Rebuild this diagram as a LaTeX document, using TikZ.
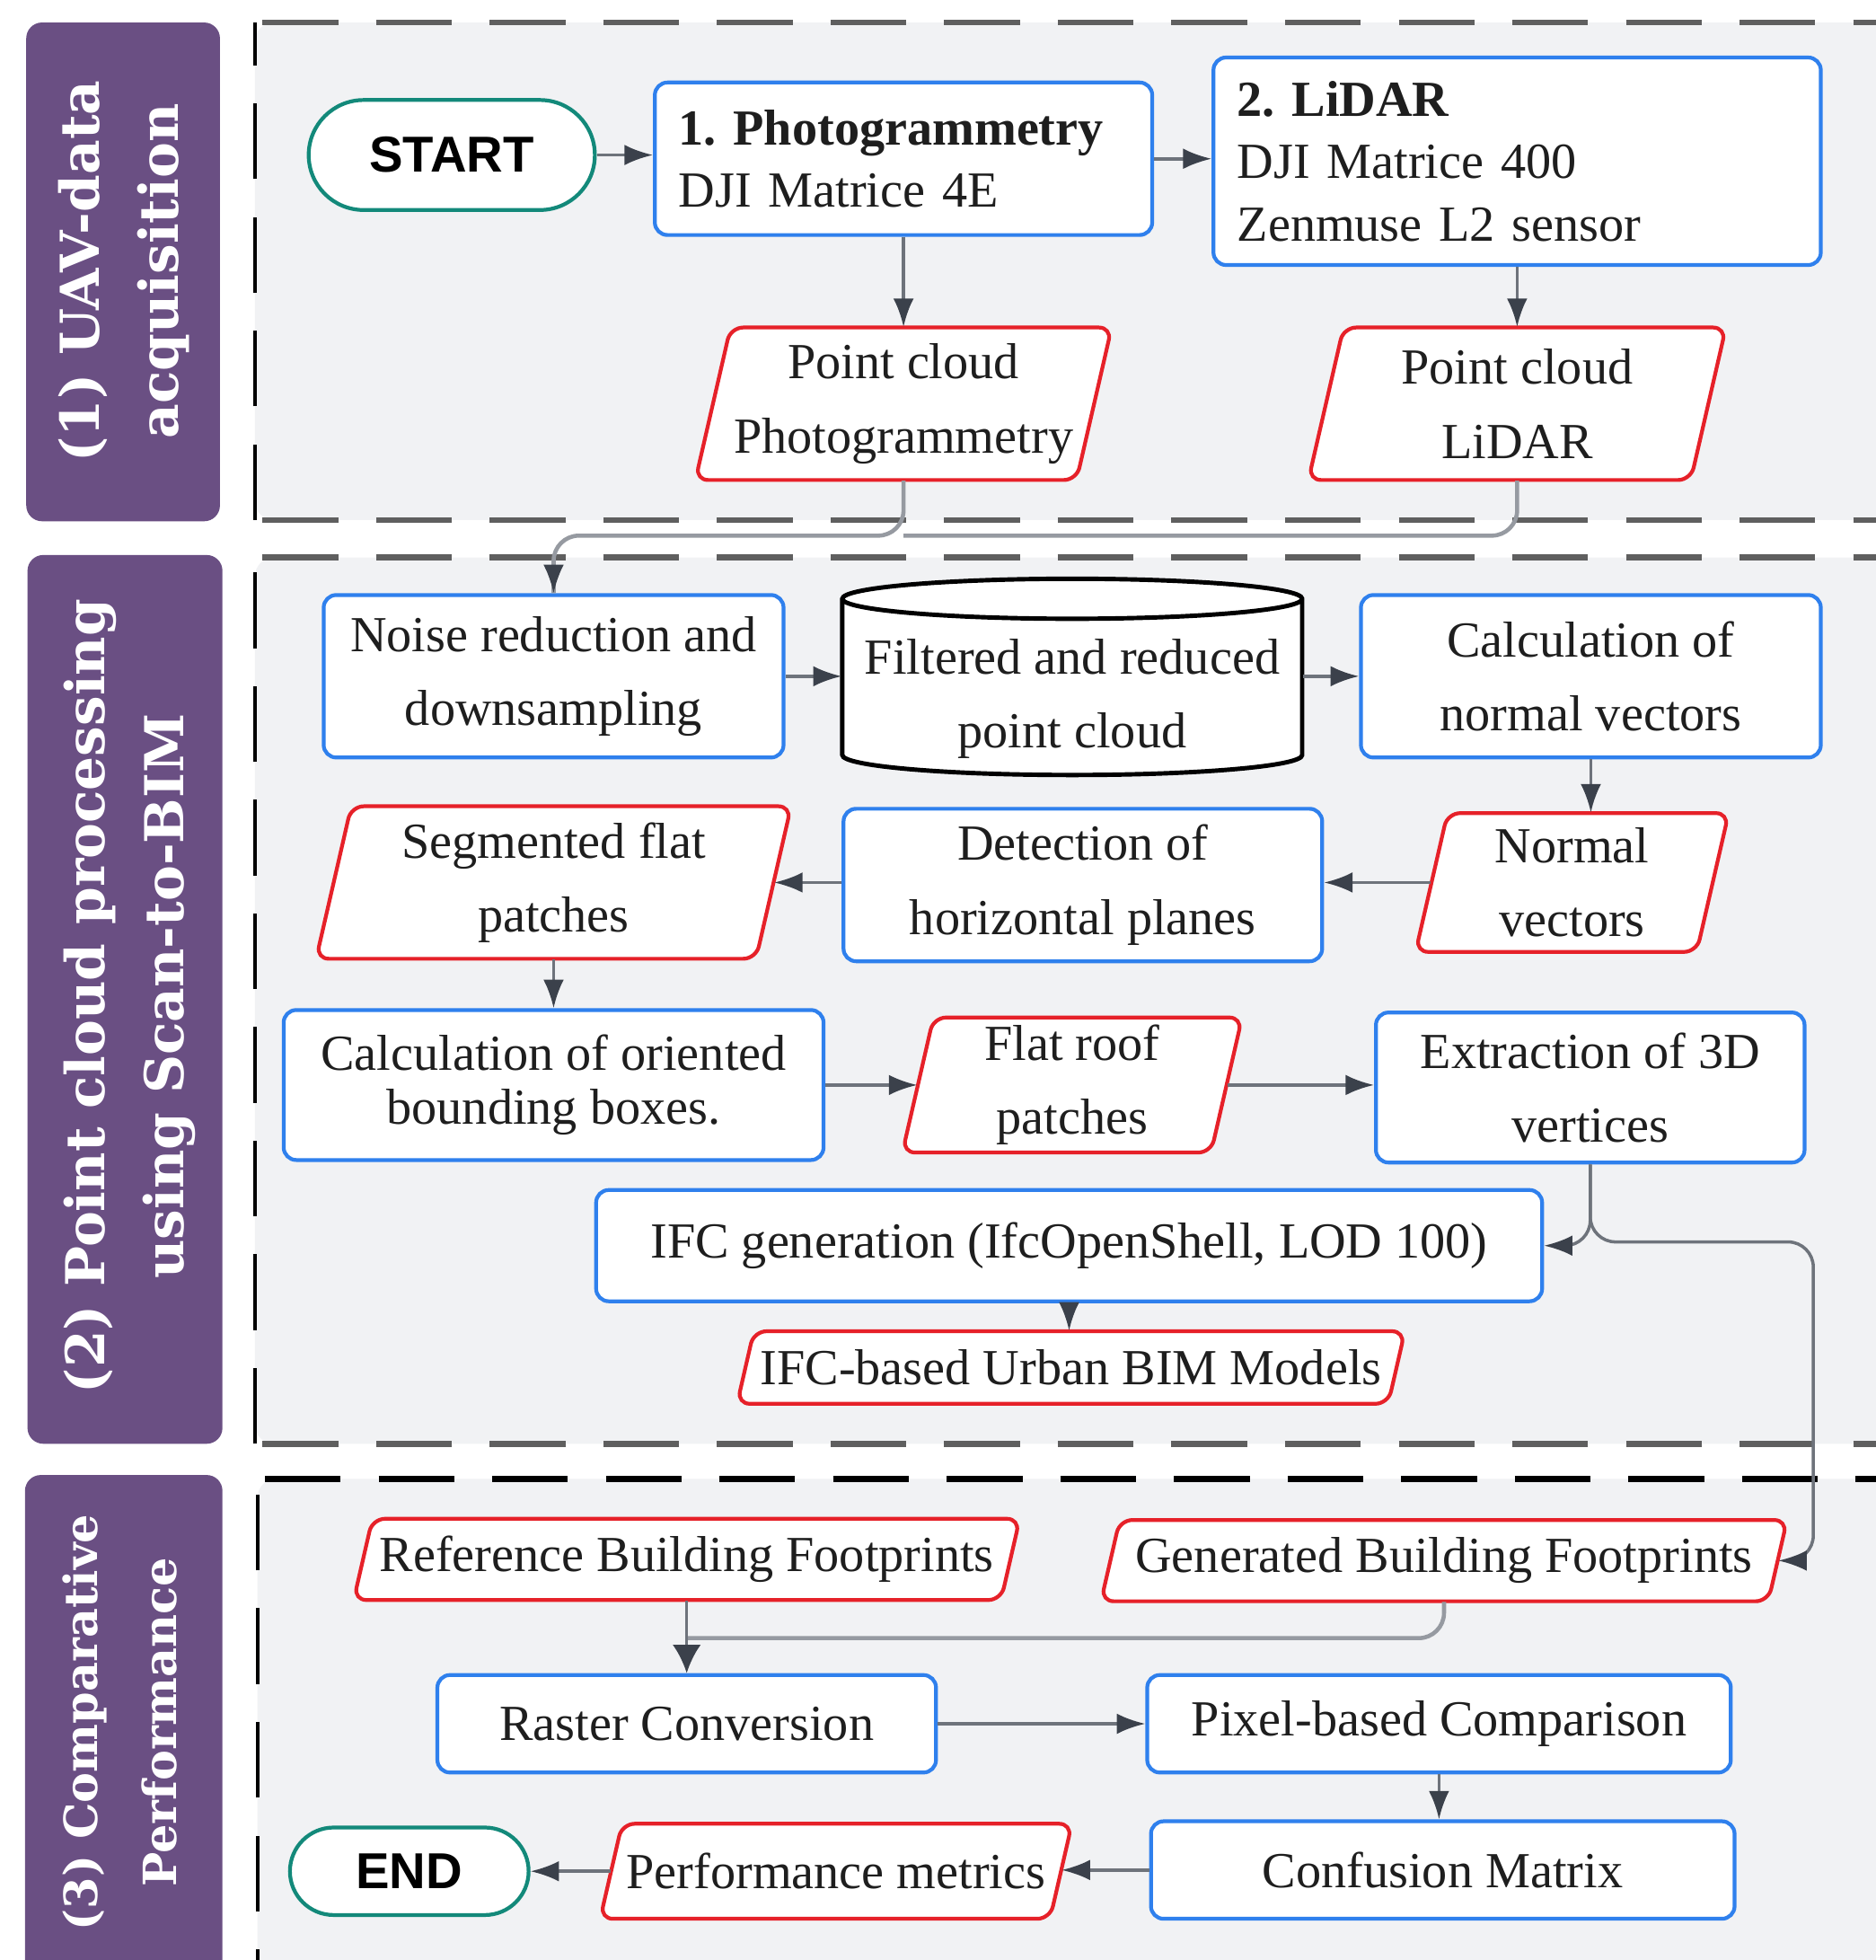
\documentclass[tikz,border=0pt]{standalone}
\usepackage{fontspec}
\setmainfont{Liberation Serif}
\newfontfamily\lanefont{DejaVu Serif}
\newfontfamily\termfont{Liberation Sans}
\usetikzlibrary{arrows.meta,shapes.misc}
\frenchspacing

\definecolor{stepblue}{HTML}{2F80ED}
\definecolor{datared}{HTML}{E62129}
\definecolor{termteal}{HTML}{13897A}
\definecolor{lanepurple}{HTML}{6A4F83}
\definecolor{panelgray}{HTML}{F1F2F4}
\definecolor{panelline}{HTML}{5F5F5F}
\definecolor{flowgray}{HTML}{6E737B}
\definecolor{headgray}{HTML}{3B414B}
\definecolor{mergegray}{HTML}{969AA1}
\definecolor{inkdark}{HTML}{1E1E1E}

\newlength{\px}
\setlength{\px}{0.013916cm}
\newcommand{\boxfont}{\fontsize{16}{23.4}\selectfont}

% slanted data box: name, centre, side length, height, text
\newcommand{\slantnode}[5]{%
  \draw[dataline] (#2) ++({-#3/2+0.115*#4},{-#4/2}) -- ++(#3,0) -- ++({-0.23*#4},#4) -- ++(-#3,0) -- cycle;
  \node[datatext, minimum width=#3\px, minimum height=#4\px] (#1) at (#2) {#5};}

\tikzset{
  procbox/.style={draw=stepblue, line width=1.2pt, fill=white, rounded corners=4pt,
    align=center, inner sep=0pt, text=inkdark, font=\boxfont},
  dataline/.style={draw=datared, line width=1.2pt, fill=white, rounded corners=4pt},
  datatext/.style={align=center, inner sep=0pt, text=inkdark, font=\boxfont},
  termbox/.style={rounded rectangle, draw=termteal, line width=1.2pt, fill=white,
    inner sep=0pt, font=\termfont\bfseries\fontsize{16}{18}\selectfont},
  flow/.style={draw=flowgray, line width=1pt, -{Latex[length=9pt,width=6.5pt,color=headgray]}},
  bigflow/.style={flow, -{Latex[length=9pt,width=9pt,color=headgray]}},
  merge/.style={draw=mergegray, line width=1.3pt},
  edgedash/.style={draw=panelline, line width=1.9pt, dash pattern=on 24pt off 12pt},
  sidedash/.style={draw=black, line width=1.1pt, dash pattern=on 24pt off 12pt},
  lanebox/.style={fill=lanepurple, rounded corners=5pt},
  lanetext/.style={rotate=90, align=center, text=white, inner sep=0pt,
    font=\lanefont\bfseries\fontsize{17}{25}\selectfont},
}

\begin{document}
\begin{tikzpicture}[x=0.013916cm, y=-0.013916cm]
\useasboundingbox (0,0) rectangle (1501,1568);
\fill[white] (0,0) rectangle (1501,1568);
\clip (0,0) rectangle (1501,1568);

% swim lanes
\foreach \ytop/\ybot/\xl/\topcol in {18/416/204/panelline, 446/1155/204/panelline, 1183/1620/206/black} {
  \fill[panelgray, rounded corners=6pt] (\xl,\ytop) rectangle (1560,\ybot);
  \draw[edgedash, draw=\topcol] (\xl+6,\ytop) -- (1560,\ytop);
  \draw[edgedash] (\xl+6,\ybot) -- (1560,\ybot);
  \draw[sidedash] (\xl,\ybot) -- (\xl,\ytop);
}
\fill[lanebox] (21,18) rectangle (176,417);
\fill[lanebox] (22,444) rectangle (178,1155);
\fill[lanebox] (20,1180) rectangle (178,1620);

\node[lanetext] (lane1) at (99,217) {(1) UAV-data\\acquisition};
\node[lanetext] (lane2) at (104,797) {(2) Point cloud processing\\using Scan-to-BIM};
\node[lanetext, font=\lanefont\bfseries\fontsize{14.5}{25}\selectfont] (lane3) at (96,1378)
  {(3) Comparative\\Performance};

% (1) acquisition
\node[termbox, minimum width=229\px, minimum height=88\px] (start) at (361.5,124) {START};
\node[procbox, align=left, inner xsep=19\px, text width=360\px, minimum height=122\px,
  font=\fontsize{16}{19.8}\selectfont] (photo) at (723,127)
  {\textbf{1. Photogrammetry}\\DJI Matrice 4E};
\node[procbox, align=left, inner xsep=19\px, text width=448\px, minimum height=166\px,
  font=\fontsize{16}{19.8}\selectfont] (lidar) at (1214,129)
  {\textbf{2. LiDAR}\\DJI Matrice 400\\Zenmuse L2 sensor};
\slantnode{pcphoto}{723,323}{305}{122}{Point cloud\\Photogrammetry}
\slantnode{pclidar}{1214,323}{306}{122}{Point cloud\\LiDAR}

% (2) scan-to-BIM
\node[procbox, minimum width=368\px, minimum height=130\px] (noise) at (443,541)
  {Noise reduction and\\downsampling};
\draw[draw=black, line width=1.4pt, fill=white] (674,479) -- (674,604)
  arc[start angle=180, end angle=360, x radius=184\px, y radius=16\px] -- (1042,479)
  arc[start angle=0, end angle=180, x radius=184\px, y radius=16\px] -- cycle;
\draw[draw=black, line width=1.4pt] (674,479)
  arc[start angle=180, end angle=360, x radius=184\px, y radius=16\px];
\node[datatext, minimum width=368\px, minimum height=125\px] (filtered) at (858,559)
  {Filtered and reduced\\point cloud};
\node[procbox, minimum width=368\px, minimum height=130\px] (normcalc) at (1273,541)
  {Calculation of\\normal vectors};
\slantnode{normvec}{1258,706}{225}{111}{Normal\\vectors}
\node[procbox, minimum width=383\px, minimum height=122\px] (detect) at (866.5,708)
  {Detection of\\horizontal planes};
\slantnode{segpatch}{443,706}{352}{122}{Segmented flat\\patches}
\node[procbox, minimum width=432\px, minimum height=120\px,
  font=\fontsize{16}{17}\selectfont] (obb) at (443,868)
  {Calculation of oriented\\bounding boxes.};
\slantnode{flatroof}{858,868}{247}{108}{Flat roof\\patches}
\node[procbox, minimum width=343\px, minimum height=120\px] (extract) at (1272.5,870)
  {Extraction of 3D\\vertices};
\node[procbox, minimum width=757\px, minimum height=89\px] (ifcgen) at (855.5,996.5)
  {IFC generation (IfcOpenShell, LOD 100)};
\slantnode{ifcmodel}{857,1094}{521}{58}{IFC-based Urban BIM Models}

% (3) comparison
\slantnode{refprint}{549.5,1247.5}{518}{65}{Reference Building Footprints}
\slantnode{genprint}{1155.5,1248.5}{534}{65}{Generated Building Footprints}
\node[procbox, minimum width=399\px, minimum height=78\px] (raster) at (549.5,1379)
  {Raster Conversion};
\node[procbox, minimum width=467\px, minimum height=78\px] (pixel) at (1151.5,1379)
  {Pixel-based Comparison};
\node[procbox, minimum width=467\px, minimum height=78\px] (confusion) at (1154.5,1496)
  {Confusion Matrix};
\slantnode{metrics}{669,1497}{360}{76}{Performance metrics}
\node[termbox, minimum width=191\px, minimum height=70\px] (theend) at (327.5,1497) {END};

% connectors
\draw[flow] (start.east) -- (start.east -| photo.west);
\draw[flow] (photo) -- (photo -| lidar.west);
\draw[flow] (photo) -- (pcphoto);
\draw[flow] (lidar.south) -- (lidar.south |- pclidar.north);
\coordinate (cloudjoin) at ([yshift=-44\px]pcphoto.south);
\draw[merge, rounded corners=8pt] (pclidar.south) |- (cloudjoin);
\draw[merge, rounded corners=8pt] (pcphoto.south) -- (cloudjoin) -| (noise.north);
\draw[flow] ([yshift=10\px]noise.north) -- (noise.north);
\draw[flow] (noise.east) -- (noise.east -| filtered.west);
\draw[flow] (normcalc.west -| filtered.east) -- (normcalc.west);
\draw[flow] (normcalc.south) -- (normcalc.south |- normvec.north);
\draw[flow] (normvec.west) -- (normvec.west -| detect.east);
\draw[flow] (detect.west |- segpatch.east) -- (segpatch.east);
\draw[flow] (segpatch) -- (obb);
\draw[flow] (obb) -- (flatroof);
\draw[flow] (flatroof) -- (flatroof -| extract.west);
\draw[flow, rounded corners=8pt] (extract.south) |- (ifcgen.east);
\draw[flow, rounded corners=8pt] (extract.south) -- ++(0,62) -| ([xshift=28\px]genprint.east) -- (genprint.east);
\draw[flow] (ifcgen.south) -- (ifcgen.south |- ifcmodel.north);
\draw[merge, rounded corners=8pt] (genprint.south) |- ([yshift=-30\px]refprint.south);
\draw[bigflow] (refprint) -- (raster);
\draw[flow] (raster) -- (pixel);
\draw[flow] (pixel.south) -- (pixel.south |- confusion.north);
\draw[flow] (confusion.west) -- (confusion.west -| metrics.east);
\draw[flow] (metrics.west) -- (metrics.west -| theend.east);
\end{tikzpicture}
\end{document}
